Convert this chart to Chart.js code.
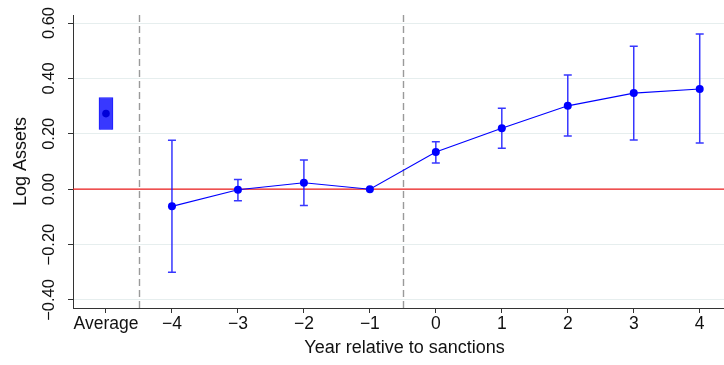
<!DOCTYPE html>
<html>
<head>
<meta charset="utf-8">
<script src="https://cdn.jsdelivr.net/npm/chart.js@4.4.1/dist/chart.umd.min.js"></script>
<style>
  html, body { margin: 0; padding: 0; background: #fff; overflow: hidden; }
  #wrap { width: 740px; height: 365px; position: relative; }
</style>
</head>
<body>
<div id="wrap"><canvas id="c"></canvas></div>
<script>
// Category axis: pooled average first, then event years
const categories = ['Average', '−4', '−3', '−2', '−1', '0', '1', '2', '3', '4'];

// Event-study coefficients and 95% confidence bounds (year −1 is the omitted base year)
const years  = [-4, -3, -2, -1, 0, 1, 2, 3, 4];
const coef   = [-0.062, -0.002, 0.023, 0.000, 0.134, 0.220, 0.301, 0.347, 0.362];
const ciLow  = [-0.300, -0.042, -0.059, null, 0.095, 0.148, 0.192, 0.178, 0.167];
const ciHigh = [ 0.177,  0.035,  0.105, null, 0.171, 0.292, 0.412, 0.516, 0.560];

// Pooled post-period average with its confidence interval
const avgCoef = 0.273;
const avgLow  = 0.215;
const avgHigh = 0.331;

// Y axis ticks
const yTicks      = [-0.4, -0.2, 0, 0.2, 0.4, 0.6];
const yTickLabels = ['−0.40', '−0.20', '0.00', '0.20', '0.40', '0.60'];

// Dashed separators sit between category slots
const separators = [0.5, 4.5];

const FONT = "'Liberation Sans', Arial, Helvetica, sans-serif";
Chart.defaults.font.family = FONT;
Chart.defaults.color = '#111';

const catIndex = label => categories.indexOf(label);
const yearLabel = y => (y < 0 ? '−' + Math.abs(y) : String(y));

const lineData = years.map((yr, k) => ({ x: catIndex(yearLabel(yr)), y: coef[k] }));

const refLines = {
  id: 'refLines',
  beforeDatasetsDraw(chart) {
    const { ctx, chartArea: a, scales: { x, y } } = chart;
    ctx.save();
    ctx.beginPath();
    ctx.rect(a.left, a.top, a.right - a.left, a.bottom - a.top);
    ctx.clip();

    // zero reference line
    const y0 = y.getPixelForValue(0);
    ctx.strokeStyle = '#ee1c1c';
    ctx.lineWidth = 1.2;
    ctx.beginPath();
    ctx.moveTo(a.left, y0);
    ctx.lineTo(a.right, y0);
    ctx.stroke();

    // dashed separators
    ctx.strokeStyle = '#9a9a9a';
    ctx.lineWidth = 1.4;
    ctx.setLineDash([7, 4]);
    for (const v of separators) {
      const px = Math.round(x.getPixelForValue(v)) + 0.5;
      ctx.beginPath();
      ctx.moveTo(px, a.top);
      ctx.lineTo(px, a.bottom);
      ctx.stroke();
    }
    ctx.setLineDash([]);

    // confidence-interval whiskers
    ctx.strokeStyle = 'rgba(20,20,255,0.85)';
    ctx.lineWidth = 1.5;
    const cap = 4;
    years.forEach((yr, k) => {
      if (ciLow[k] === null || ciHigh[k] === null) return;
      const px = x.getPixelForValue(catIndex(yearLabel(yr)));
      const pLo = y.getPixelForValue(ciLow[k]);
      const pHi = y.getPixelForValue(ciHigh[k]);
      ctx.beginPath();
      ctx.moveTo(px, pLo); ctx.lineTo(px, pHi);
      ctx.moveTo(px - cap, pLo); ctx.lineTo(px + cap, pLo);
      ctx.moveTo(px - cap, pHi); ctx.lineTo(px + cap, pHi);
      ctx.stroke();
    });
    ctx.restore();
  }
};

new Chart(document.getElementById('c'), {
  type: 'scatter',
  data: {
    datasets: [
      {
        type: 'bar',
        data: [{ x: catIndex('Average'), y: [avgLow, avgHigh] }],
        backgroundColor: '#3838ff',
        borderColor: '#1a1aff',
        borderWidth: 1,
        barThickness: 14,
        grouped: false,
        order: 3
      },
      {
        type: 'scatter',
        data: [{ x: catIndex('Average'), y: avgCoef }],
        pointRadius: 3.8,
        pointBackgroundColor: '#0000d8',
        pointBorderWidth: 0,
        order: 1
      },
      {
        type: 'scatter',
        data: lineData,
        showLine: true,
        borderColor: '#0000ff',
        borderWidth: 1.1,
        pointRadius: 4,
        pointBackgroundColor: '#0000ff',
        pointBorderWidth: 0,
        order: 2
      }
    ]
  },
  options: {
    responsive: true,
    maintainAspectRatio: false,
    animation: false,
    devicePixelRatio: 1,
    layout: { padding: { top: 15, right: 0, bottom: 0, left: 0 } },
    plugins: { legend: { display: false }, tooltip: { enabled: false } },
    scales: {
      x: {
        type: 'linear',
        offset: false,
        min: -0.5,
        max: 9.55,
        afterBuildTicks: s => { s.ticks = categories.map((_, i) => ({ value: i })); },
        afterFit: s => { s.height = 57; },
        ticks: {
          callback: v => categories[Math.round(v)],
          font: { size: 17.5 },
          padding: 1,
          maxRotation: 0,
          autoSkip: false,
          color: '#111'
        },
        grid: { offset: false, drawOnChartArea: false, drawTicks: true, tickLength: 5, tickColor: '#333', lineWidth: 1 },
        border: { display: true, color: '#333', width: 1 },
        title: { display: true, text: 'Year relative to sanctions', font: { size: 18 }, color: '#111', padding: { top: 0, bottom: 6 } }
      },
      y: {
        type: 'linear',
        min: -0.429,
        max: 0.629,
        afterBuildTicks: s => { s.ticks = yTicks.map(v => ({ value: v })); },
        afterFit: s => { s.width = 73; },
        ticks: {
          callback: (v, i) => yTickLabels[i],
          minRotation: 90,
          maxRotation: 90,
          crossAlign: 'center',
          padding: -2,
          font: { size: 16.5 },
          color: '#111'
        },
        grid: { color: '#e6eeee', tickColor: '#333', tickLength: 5, lineWidth: 1 },
        border: { display: true, color: '#333', width: 1 },
        title: { display: true, text: 'Log Assets', font: { size: 18 }, color: '#111', padding: { top: 10, bottom: 0 } }
      }
    }
  },
  plugins: [refLines]
});
</script>
</body>
</html>
